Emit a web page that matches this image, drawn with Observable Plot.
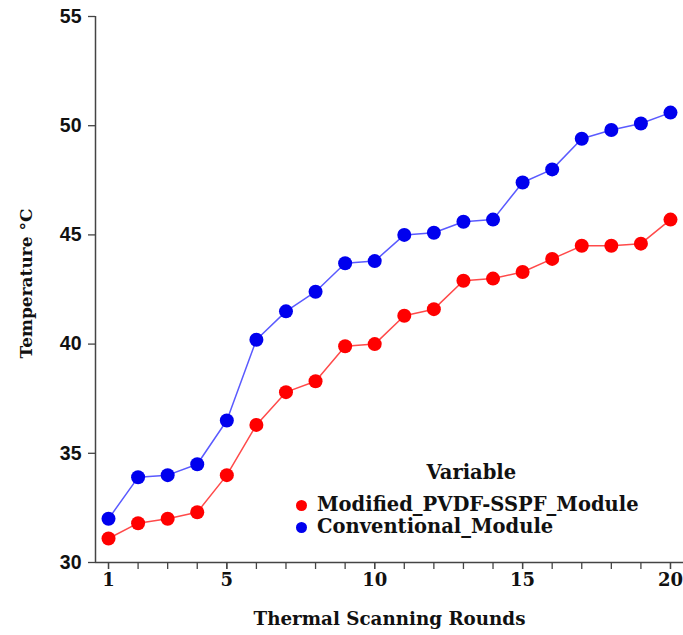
<!DOCTYPE html>
<html><head><meta charset="utf-8">
<script src="https://cdn.jsdelivr.net/npm/d3@7"></script>
<script src="https://cdn.jsdelivr.net/npm/@observablehq/plot@0.6"></script>
<style>
body{margin:0;background:#fff}
#wrap{position:relative;width:683px;height:635px}
#legend{position:absolute;left:296px;top:462px;font-family:'DejaVu Serif',serif;font-weight:bold;font-size:19.5px;color:#111;line-height:22px}
#legend .title{text-align:center;margin-bottom:10px;padding-left:8px}
#legend .row{display:flex;align-items:center;white-space:nowrap}
#legend .sw{width:11px;height:11px;border-radius:50%;display:inline-block;margin-right:10px}
</style></head><body><div id="wrap"><div id="legend"></div></div>
<script>
const rounds = [1,2,3,4,5,6,7,8,9,10,11,12,13,14,15,16,17,18,19,20];
const modified = [31.1,31.8,32.0,32.3,34.0,36.3,37.8,38.3,39.9,40.0,41.3,41.6,42.9,43.0,43.3,43.9,44.5,44.5,44.6,45.7];
const conventional = [32.0,33.9,34.0,34.5,36.5,40.2,41.5,42.4,43.7,43.8,45.0,45.1,45.6,45.7,47.4,48.0,49.4,49.8,50.1,50.6];
const seriesNames = ["Modified_PVDF-SSPF_Module","Conventional_Module"];
const xTickLabels = [1,5,10,15,20];
const yTicks = [30,35,40,45,50,55];
const xTitle = "Thermal Scanning Rounds";
const yTitle = "Temperature °C";

const colors = {dot:["#ff0000","#0000ee"], line:["#ff4a4a","#5a5aff"]};
const data = [];
rounds.forEach((r,i)=>{
  data.push({round:r, temp:modified[i], variable:seriesNames[0]});
  data.push({round:r, temp:conventional[i], variable:seriesNames[1]});
});
const pad = 0.44;
const xDom = [d3.min(rounds)-pad, d3.max(rounds)+pad];
const yDom = [d3.min(yTicks), d3.max(yTicks)];
const ink = "#111";
const serif = "'DejaVu Serif', serif";
const sans = "'Liberation Sans', Arial, sans-serif";

const chart = Plot.plot({
  width:683, height:635,
  marginLeft:95, marginRight:0, marginTop:16, marginBottom:73,
  style:{fontFamily:serif, fontWeight:"bold", fontSize:"17px", color:ink, background:"#fff"},
  x:{domain:xDom},
  y:{domain:yDom},
  color:{domain:seriesNames, range:colors.dot},
  marks:[
    Plot.ruleY([yDom[0]], {stroke:"#444", strokeWidth:1.5}),
    Plot.ruleX([xDom[0]], {stroke:"#444", strokeWidth:1.5}),
    Plot.axisX({ticks:rounds, tickFormat:()=>"", tickSize:7, stroke:"#444", strokeWidth:1.3, label:null}),
    Plot.axisX({ticks:xTickLabels, tickSize:7, tickPadding:4, stroke:"#444", strokeWidth:1.3, fontSize:18, fontFamily:serif,
      label:xTitle, labelAnchor:"center", labelOffset:62, labelArrow:"none"}),
    Plot.axisY({ticks:yTicks, tickSize:7, tickPadding:7, stroke:"#444", strokeWidth:1.3, fontSize:19.5, fontFamily:sans, label:null}),
    Plot.text([yTitle], {text:d=>d, frameAnchor:"left", textAnchor:"middle", lineAnchor:"middle", rotate:-90, dx:-69, dy:-6, fontSize:17, fontFamily:serif, fontWeight:"bold", fill:ink}),
    Plot.line(data.filter(d=>d.variable===seriesNames[0]), {x:"round", y:"temp", stroke:colors.line[0], strokeWidth:1.5}),
    Plot.line(data.filter(d=>d.variable===seriesNames[1]), {x:"round", y:"temp", stroke:colors.line[1], strokeWidth:1.5}),
    Plot.dot(data, {x:"round", y:"temp", fill:"variable", r:7})
  ]
});
// enlarge x-axis title independently of tick labels
chart.querySelectorAll("text").forEach(t=>{ if (t.textContent===xTitle) t.setAttribute("font-size","18.3"); });
document.getElementById("wrap").prepend(chart);

const lg = document.getElementById("legend");
lg.innerHTML = `<div class="title">Variable</div>` + seriesNames.map((n,i)=>
  `<div class="row"><span class="sw" style="background:${colors.dot[i]}"></span>${n}</div>`).join("");
</script>
</body></html>
